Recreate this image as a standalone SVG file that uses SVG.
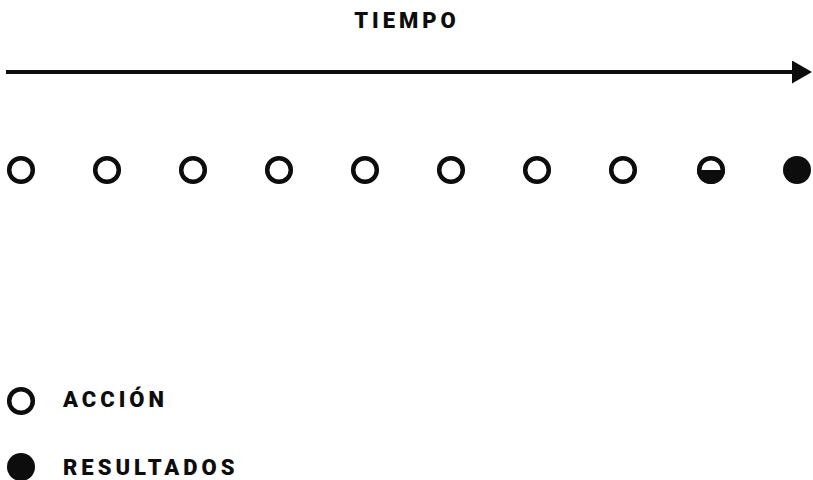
<svg xmlns="http://www.w3.org/2000/svg" width="813" height="480" viewBox="0 0 813 480">
<style>
.t{font-family:Roboto,"Liberation Sans",sans-serif;font-weight:900;fill:#0d0d0d;font-size:22px;letter-spacing:4px}
.o{fill:#fff;stroke:#0d0d0d;stroke-width:4.5}
.f{fill:#0d0d0d}
</style>
<defs>
<marker id="ah" markerWidth="20" markerHeight="23" refX="0" refY="11.5" orient="auto" markerUnits="userSpaceOnUse">
<path d="M0,0 L20,11.5 L0,23 Z" fill="#0d0d0d"/>
</marker>
</defs>
<rect width="813" height="480" fill="#fff"/>
<text class="t" x="407" y="28" text-anchor="middle">TIEMPO</text>
<g id="connectors">
<line x1="6" y1="72" x2="792" y2="72" stroke="#0d0d0d" stroke-width="4" marker-end="url(#ah)"/>
</g>
<g id="n1"><circle class="o" cx="21" cy="170" r="11.8"/></g>
<g id="n2"><circle class="o" cx="107" cy="170" r="11.8"/></g>
<g id="n3"><circle class="o" cx="193" cy="170" r="11.8"/></g>
<g id="n4"><circle class="o" cx="279" cy="170" r="11.8"/></g>
<g id="n5"><circle class="o" cx="365" cy="170" r="11.8"/></g>
<g id="n6"><circle class="o" cx="451" cy="170" r="11.8"/></g>
<g id="n7"><circle class="o" cx="537" cy="170" r="11.8"/></g>
<g id="n8"><circle class="o" cx="623" cy="170" r="11.8"/></g>
<g id="n9"><path class="f" d="M697,170 A14,14 0 0 0 725,170 Z"/><circle cx="711" cy="170" r="11.8" fill="none" stroke="#0d0d0d" stroke-width="4.5"/></g>
<g id="n10"><circle class="f" cx="797" cy="170" r="14"/></g>
<g id="legend-accion"><circle class="o" cx="21" cy="401" r="11.8"/><text class="t" x="63" y="407">ACCIÓN</text></g>
<g id="legend-resultados"><circle class="f" cx="21" cy="467" r="14"/><text class="t" x="63" y="475">RESULTADOS</text></g>
</svg>
